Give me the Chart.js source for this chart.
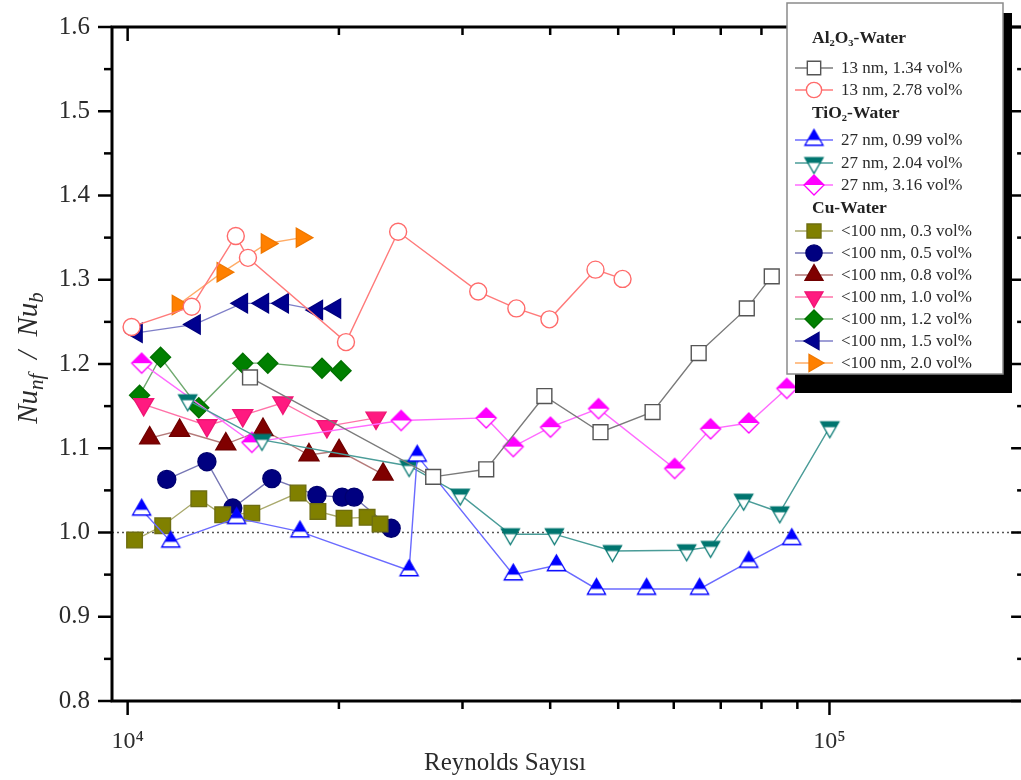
<!DOCTYPE html>
<html>
<head>
<meta charset="utf-8">
<script src="https://cdn.jsdelivr.net/npm/chart.js@4.4.1/dist/chart.umd.min.js"></script>
<style>
  html, body { margin: 0; padding: 0; background: #fff; overflow: hidden; }
  #nuChart { display: block; }
</style>
</head>
<body>
<canvas id="nuChart" width="1038" height="780"></canvas>
<script>
// Reynolds numbers (x) and Nu_nf / Nu_b (y)
const reAl134 = [14940, 27250, 32430, 39250, 47180, 55970, 65110, 76250, 82750];
const nuAl134 = [1.184, 1.066, 1.075, 1.162, 1.119, 1.143, 1.213, 1.266, 1.304];

const reAl278 = [10130, 12340, 14260, 14840, 20470, 24290, 31590, 35800, 39900, 46410, 50720];
const nuAl278 = [1.244, 1.268, 1.352, 1.326, 1.226, 1.357, 1.286, 1.266, 1.253, 1.312, 1.301];

const reTi099 = [10470, 11520, 14300, 17600, 25180, 25860, 35440, 40830, 46560, 54880, 65310, 76740, 88370];
const nuTi099 = [1.027, 0.989, 1.017, 1.001, 0.955, 1.091, 0.950, 0.961, 0.933, 0.933, 0.933, 0.965, 0.992];

const reTi204 = [12180, 15540, 25180, 29780, 35100, 40560, 49070, 62590, 67700, 75460, 84960, 100100];
const nuTi204 = [1.157, 1.110, 1.079, 1.045, 0.998, 0.998, 0.978, 0.979, 0.983, 1.039, 1.024, 1.125];

const reTi316 = [10470, 15030, 24530, 32430, 35440, 40040, 46880, 60170, 67700, 76740, 86940];
const nuTi316 = [1.201, 1.107, 1.133, 1.136, 1.102, 1.125, 1.147, 1.076, 1.123, 1.130, 1.171];

const reCu03 = [10230, 11220, 12630, 13660, 15030, 17490, 18670, 20340, 21940, 22890];
const nuCu03 = [0.991, 1.008, 1.040, 1.021, 1.023, 1.047, 1.025, 1.017, 1.018, 1.010];

const reCu05 = [11370, 12970, 14120, 16050, 18610, 20210, 21020, 23740];
const nuCu05 = [1.063, 1.084, 1.029, 1.064, 1.044, 1.042, 1.042, 1.005];

const reCu08 = [10750, 11860, 13800, 15590, 18130, 20010, 23120];
const nuCu08 = [1.112, 1.121, 1.105, 1.122, 1.092, 1.097, 1.069];

const reCu10 = [10540, 12970, 14590, 16640, 19230, 22590];
const nuCu10 = [1.152, 1.127, 1.139, 1.154, 1.126, 1.136];

const reCu12 = [10400, 11140, 12630, 14590, 15840, 18920, 20140];
const nuCu12 = [1.163, 1.208, 1.148, 1.201, 1.201, 1.195, 1.192];

const reCu15 = [10300, 12460, 14550, 15590, 16640, 18610, 19750];
const nuCu15 = [1.237, 1.247, 1.272, 1.272, 1.272, 1.264, 1.266];

const reCu20 = [11790, 13660, 15790, 17710];
const nuCu20 = [1.270, 1.309, 1.343, 1.350];

// axes
const reMin = 9500;
const reMax = 190000;
const refLine = 1.0;
const xMajorTicks = [10000, 100000];
const xMinorTicks = [20000, 30000, 40000, 50000, 60000, 70000, 80000, 90000];
const xTickLabels = ['10⁴', '10⁵'];
const yMajorTicks = [0.8, 0.9, 1.0, 1.1, 1.2, 1.3, 1.4, 1.5, 1.6];
const yMinorTicks = [0.85, 0.95, 1.05, 1.15, 1.25, 1.35, 1.45, 1.55];

const groupTitles = ['Al₂O₃-Water', 'TiO₂-Water', 'Cu-Water'];
const xTitle = 'Reynolds Sayısı';

const SERIF = "'Liberation Serif', 'Times New Roman', serif";

// half filled markers (Origin style) drawn on small canvases
function halfMarker(shape, color, r) {
    const s = Math.ceil(r * 2 + 4);
    const cv = document.createElement('canvas');
    cv.width = s; cv.height = s;
    const g = cv.getContext('2d');
    const m = s / 2;
    const h = r * Math.sqrt(3) / 2;
    const path = () => {
        g.beginPath();
        if (shape === 'up') {
            g.moveTo(m, m - r); g.lineTo(m + h, m + r / 2); g.lineTo(m - h, m + r / 2);
        } else if (shape === 'down') {
            g.moveTo(m, m + r); g.lineTo(m + h, m - r / 2); g.lineTo(m - h, m - r / 2);
        } else {
            g.moveTo(m, m - r); g.lineTo(m + r, m); g.lineTo(m, m + r); g.lineTo(m - r, m);
        }
        g.closePath();
    };
    path(); g.fillStyle = '#fff'; g.fill();
    g.save(); path(); g.clip();
    g.fillStyle = color; g.fillRect(0, 0, s, m);
    g.restore();
    path(); g.strokeStyle = color; g.lineWidth = 1.3; g.stroke();
    return cv;
}

function pts(xs, ys) {
    return xs.map((v, i) => ({ x: v, y: ys[i] }));
}

function serie(label, group, xs, ys, mk) {
    return Object.assign({
        label: label,
        group: group,
        data: pts(xs, ys),
        showLine: true,
        borderWidth: 1.4,
        pointBorderWidth: 1.4,
        pointRotation: 0
    }, mk);
}

const datasets = [
    serie('13 nm, 1.34 vol%', 0, reAl134, nuAl134, { borderColor: '#7a7a7a', pointStyle: 'rect', pointRadius: 10.5, pointBackgroundColor: '#fff', pointBorderColor: '#555' }),
    serie('13 nm, 2.78 vol%', 0, reAl278, nuAl278, { borderColor: '#ff7a7a', pointStyle: 'circle', pointRadius: 8.5, pointBackgroundColor: '#fff', pointBorderColor: '#ff6b6b' }),
    serie('27 nm, 0.99 vol%', 1, reTi099, nuTi099, { borderColor: '#6b6bff', pointStyle: halfMarker('up', '#0000ff', 10.5), pointRadius: 10 }),
    serie('27 nm, 2.04 vol%', 1, reTi204, nuTi204, { borderColor: '#4a9c98', pointStyle: halfMarker('down', '#00756f', 10.5), pointRadius: 10 }),
    serie('27 nm, 3.16 vol%', 1, reTi316, nuTi316, { borderColor: '#ff6bff', pointStyle: halfMarker('diamond', '#ff00ff', 10), pointRadius: 10 }),
    serie('<100 nm, 0.3 vol%', 2, reCu03, nuCu03, { borderColor: '#a9a96c', pointStyle: 'rect', pointRadius: 11, pointBackgroundColor: '#808000', pointBorderColor: '#6e6e10' }),
    serie('<100 nm, 0.5 vol%', 2, reCu05, nuCu05, { borderColor: '#7676b4', pointStyle: 'circle', pointRadius: 9, pointBackgroundColor: '#000080', pointBorderColor: '#000070' }),
    serie('<100 nm, 0.8 vol%', 2, reCu08, nuCu08, { borderColor: '#b57a7a', pointStyle: 'triangle', pointRadius: 11.5, pointBackgroundColor: '#800000', pointBorderColor: '#700000' }),
    serie('<100 nm, 1.0 vol%', 2, reCu10, nuCu10, { borderColor: '#ff72a8', pointStyle: 'triangle', pointRotation: 180, pointRadius: 11.5, pointBackgroundColor: '#ff1a80', pointBorderColor: '#f01575' }),
    serie('<100 nm, 1.2 vol%', 2, reCu12, nuCu12, { borderColor: '#6fa96f', pointStyle: 'rectRot', pointRadius: 10, pointBackgroundColor: '#008000', pointBorderColor: '#007000' }),
    serie('<100 nm, 1.5 vol%', 2, reCu15, nuCu15, { borderColor: '#7f7fc8', pointStyle: 'triangle', pointRotation: -90, pointRadius: 11, pointBackgroundColor: '#000090', pointBorderColor: '#000080' }),
    serie('<100 nm, 2.0 vol%', 2, reCu20, nuCu20, { borderColor: '#ffac66', pointStyle: 'triangle', pointRotation: 90, pointRadius: 11, pointBackgroundColor: '#ff8000', pointBorderColor: '#f07800' }),
    {
        label: 'ref',
        group: -1,
        data: [{ x: reMin, y: refLine }, { x: reMax, y: refLine }],
        showLine: true,
        borderColor: '#555',
        borderWidth: 1.3,
        borderDash: [2, 3],
        pointRadius: 0
    }
];

// frame + Origin-like ticks on all four sides
const frameTicks = {
    id: 'frameTicks',
    afterDatasetsDraw(chart) {
        const { ctx, chartArea: a, scales: { x, y } } = chart;
        const line = (x1, y1, x2, y2) => { ctx.beginPath(); ctx.moveTo(x1, y1); ctx.lineTo(x2, y2); ctx.stroke(); };
        ctx.save();
        ctx.strokeStyle = '#000';
        ctx.lineWidth = 2.5;
        xMajorTicks.forEach(v => {
            const p = x.getPixelForValue(v);
            line(p, a.bottom, p, a.bottom + 14);
            line(p, a.top, p, a.top + 14);
        });
        xMinorTicks.forEach(v => {
            const p = x.getPixelForValue(v);
            line(p, a.bottom, p, a.bottom + 8);
            line(p, a.top, p, a.top + 8);
        });
        yMajorTicks.forEach(v => {
            const p = y.getPixelForValue(v);
            line(a.left - 14, p, a.left, p);
            line(a.right - 14, p, a.right, p);
        });
        yMinorTicks.forEach(v => {
            const p = y.getPixelForValue(v);
            line(a.left - 8, p, a.left, p);
            line(a.right - 8, p, a.right, p);
        });
        ctx.lineWidth = 3;
        ctx.strokeRect(a.left, a.top, a.right - a.left, a.bottom - a.top);
        ctx.restore();
    }
};

// axis titles and the boxed legend with group headers
const titlesLegend = {
    id: 'titlesLegend',
    afterDraw(chart) {
        const { ctx } = chart;
        ctx.save();
        ctx.fillStyle = '#2b2b2b';

        // x title
        ctx.font = '25px ' + SERIF;
        ctx.textAlign = 'center';
        ctx.textBaseline = 'alphabetic';
        ctx.fillText(xTitle, 505, 770);

        // y title: Nu_nf / Nu_b
        ctx.save();
        ctx.translate(37, 358);
        ctx.rotate(-Math.PI / 2);
        ctx.textAlign = 'left';
        const segs = [['Nu', 29, 0], ['nf', 21, 6], ['  /  ', 29, 0], ['Nu', 29, 0], ['b', 21, 6]];
        let total = 0;
        segs.forEach(s => { ctx.font = 'italic ' + s[1] + 'px ' + SERIF; total += ctx.measureText(s[0]).width; });
        let cx = -total / 2;
        segs.forEach(s => {
            ctx.font = 'italic ' + s[1] + 'px ' + SERIF;
            ctx.fillText(s[0], cx, s[2]);
            cx += ctx.measureText(s[0]).width;
        });
        ctx.restore();

        // legend box with shadow
        const bx = 787, by = 3, bw = 216, bh = 371;
        ctx.fillStyle = '#000';
        ctx.fillRect(bx + 8, by + 10, bw + 1, bh + 9);
        ctx.fillStyle = '#fff';
        ctx.fillRect(bx, by, bw, bh);
        ctx.strokeStyle = '#8a8a8a';
        ctx.lineWidth = 1.5;
        ctx.strokeRect(bx, by, bw, bh);

        const rowY = [38, 68, 90, 113, 140, 163, 185, 208, 231, 253, 275, 297, 319, 341, 363];
        const rows = [];
        groupTitles.forEach((t, gi) => {
            rows.push({ title: t });
            chart.data.datasets.forEach(d => { if (d.group === gi) rows.push({ ds: d }); });
        });
        ctx.textBaseline = 'middle';
        ctx.textAlign = 'left';
        rows.forEach((r, i) => {
            const yy = rowY[i];
            if (r.title) {
                ctx.font = 'bold 17.5px ' + SERIF;
                ctx.fillStyle = '#222';
                ctx.fillText(r.title, 812, yy);
                return;
            }
            const d = r.ds;
            ctx.strokeStyle = d.borderColor;
            ctx.lineWidth = 1.4;
            ctx.beginPath(); ctx.moveTo(795, yy); ctx.lineTo(833, yy); ctx.stroke();
            ctx.fillStyle = d.pointBackgroundColor || '#fff';
            ctx.strokeStyle = d.pointBorderColor || d.borderColor;
            Chart.helpers.drawPoint(ctx, {
                pointStyle: d.pointStyle,
                rotation: d.pointRotation || 0,
                radius: d.pointRadius * 0.9,
                borderWidth: 1.4
            }, 814, yy);
            ctx.font = '17px ' + SERIF;
            ctx.fillStyle = '#2b2b2b';
            ctx.fillText(d.label, 841, yy + 1);
        });
        ctx.restore();
    }
};

function noPad(s) {
    s.paddingTop = 0; s.paddingBottom = 0; s.paddingLeft = 0; s.paddingRight = 0;
}

new Chart(document.getElementById('nuChart').getContext('2d'), {
    type: 'scatter',
    data: { datasets: datasets },
    options: {
        responsive: false,
        animation: false,
        events: [],
        layout: { padding: { top: 27, right: 6, left: 0, bottom: 0 } },
        plugins: { legend: { display: false }, tooltip: { enabled: false } },
        scales: {
            x: {
                type: 'logarithmic',
                min: reMin,
                max: reMax,
                grid: { display: false, drawTicks: false },
                border: { display: false },
                afterBuildTicks: s => { s.ticks = xMajorTicks.map(v => ({ value: v })); },
                afterFit: s => { s.height = 79; noPad(s); },
                ticks: {
                    autoSkip: false,
                    maxRotation: 0,
                    padding: 26,
                    color: '#2b2b2b',
                    font: { family: SERIF, size: 24 },
                    callback: v => xTickLabels[xMajorTicks.indexOf(v)] || ''
                }
            },
            y: {
                min: 0.8,
                max: 1.6,
                grid: { display: false, drawTicks: false },
                border: { display: false },
                afterBuildTicks: s => { s.ticks = yMajorTicks.map(v => ({ value: v })); },
                afterFit: s => { s.width = 112; noPad(s); },
                ticks: {
                    padding: 22,
                    color: '#2b2b2b',
                    font: { family: SERIF, size: 25 },
                    callback: v => Number(v).toFixed(1)
                }
            }
        }
    },
    plugins: [frameTicks, titlesLegend]
});
</script>
</body>
</html>
